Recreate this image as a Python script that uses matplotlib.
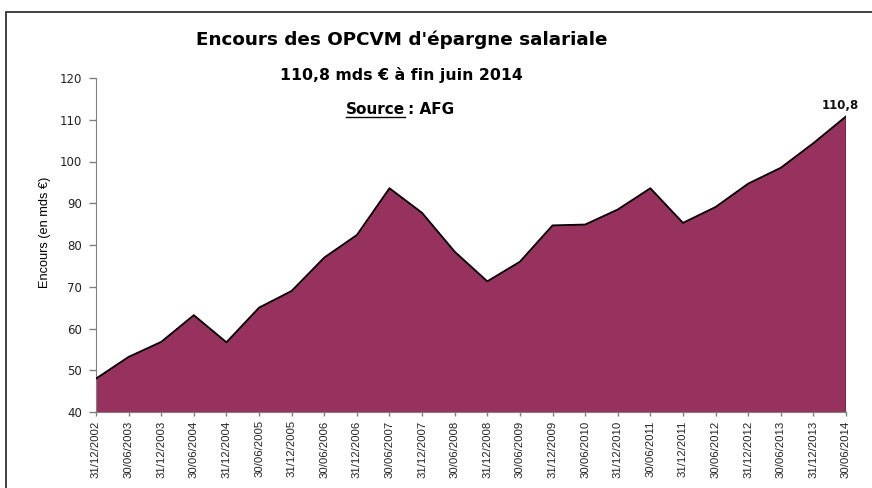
import matplotlib
matplotlib.use("Agg")
import matplotlib.pyplot as plt
from matplotlib.patches import Rectangle

dates = ["31/12/2002", "30/06/2003", "31/12/2003", "30/06/2004", "31/12/2004",
         "30/06/2005", "31/12/2005", "30/06/2006", "31/12/2006", "30/06/2007",
         "31/12/2007", "30/06/2008", "31/12/2008", "30/06/2009", "31/12/2009",
         "30/06/2010", "31/12/2010", "30/06/2011", "31/12/2011", "30/06/2012",
         "31/12/2012", "30/06/2013", "31/12/2013", "30/06/2014"]
encours = [48.0, 53.2, 56.8, 63.2, 56.7, 65.0, 69.0, 77.0, 82.4, 93.6,
           87.7, 78.4, 71.3, 76.0, 84.7, 84.9, 88.5, 93.6, 85.3, 89.1,
           94.7, 98.5, 104.4, 110.8]
yticks = [40, 50, 60, 70, 80, 90, 100, 110, 120]

plt.rcParams['font.family'] = ['DejaVu Sans']

W, H = 872, 488
fig = plt.figure(figsize=(W / 100, H / 100), dpi=100)
fig.patch.set_facecolor('white')

def fx(px):
    return px / W

def fy(py):
    return 1 - py / H

# outer frame
fig.patches.append(Rectangle((fx(6), -0.05), 1.2, fy(12) + 0.05,
                             transform=fig.transFigure, fill=False,
                             edgecolor='#333333', linewidth=1.3))

ax = fig.add_axes([fx(96), fy(412), (846 - 96) / W, (412 - 78) / H])
x = list(range(len(dates)))
ax.fill_between(x, 40, encours, facecolor='#97325F', edgecolor='none', zorder=2)
ax.plot(x, encours, color='black', linewidth=1.3, zorder=3)
ax.plot([x[-1], x[-1]], [40, encours[-1]], color='black', linewidth=1.0, zorder=3)

ax.set_xlim(0, len(dates) - 1)
ax.set_ylim(40, 120)
ax.set_yticks(yticks)
ax.set_yticklabels([str(v) for v in yticks], fontsize=8.5, color='#222222')
ax.set_xticks(x)
ax.set_xticklabels(dates, rotation=90, fontsize=8.2, color='#222222',
                   family='Liberation Sans')
for s in ['top', 'right']:
    ax.spines[s].set_visible(False)
ax.spines['left'].set_color('#808080')
ax.spines['bottom'].set_color('#808080')
ax.tick_params(axis='y', direction='out', length=5, color='#808080', width=1, pad=5)
ax.tick_params(axis='x', direction='out', length=3, color='#808080', width=1, pad=3)

fig.text(fx(45), fy(232), 'Encours (en mds €)', rotation=90, ha='center',
         va='center', fontsize=9.2, family='Liberation Sans')

ax.annotate('110,8', xy=(x[-1], encours[-1]), xytext=(-4, 3),
            textcoords='offset points', ha='center', va='bottom',
            fontsize=8.5, fontweight='bold', color='#111111')

fig.text(fx(402), fy(40), "Encours des OPCVM d'épargne salariale",
         ha='center', va='center', fontsize=13.2, fontweight='bold')
fig.text(fx(401), fy(75), "110,8 mds € à fin juin 2014",
         ha='center', va='center', fontsize=11.3, fontweight='bold')

src = fig.text(fx(346), fy(110), "Source", ha='left', va='center',
               fontsize=11, fontweight='bold')
fig.canvas.draw()
bb = src.get_window_extent(renderer=fig.canvas.get_renderer())
x0, x1 = bb.x0 / fig.dpi / fig.get_figwidth(), bb.x1 / fig.dpi / fig.get_figwidth()
fig.text(x1 + fx(3), fy(110), ": AFG", ha='left', va='center',
         fontsize=11, fontweight='bold')
fig.add_artist(plt.Line2D([x0, x1], [fy(117), fy(117)],
                          transform=fig.transFigure, color='black', linewidth=1.0))

fig.savefig('out.png', dpi=100)
